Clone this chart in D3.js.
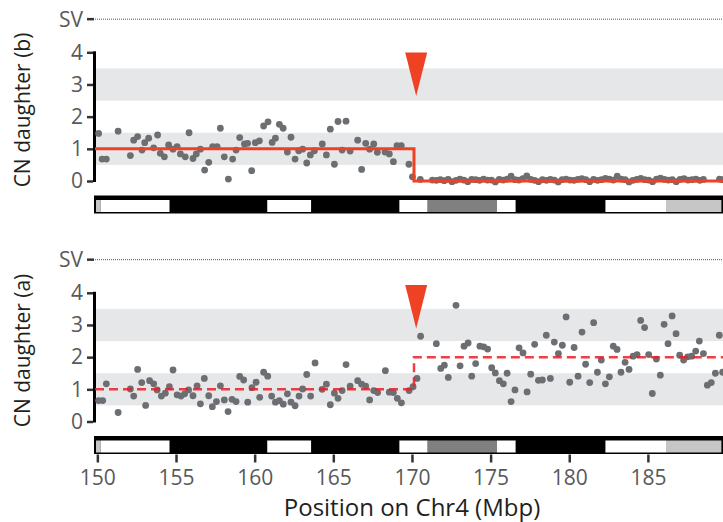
<!DOCTYPE html>
<html>
<head>
<meta charset="utf-8">
<script src="https://cdn.jsdelivr.net/npm/d3@7"></script>
<style>
  body { margin: 0; background: #fff; }
  text { font-family: "Open Sans", sans-serif; }
</style>
</head>
<body>
<svg id="chart" width="723" height="522"></svg>
<script>
// copy number per bin, [position (Mbp), CN]
var cnDaughterB = [
  [150.08, 1.48], [150.30, 0.68], [150.57, 0.68], [151.32, 1.55], [152.10, 0.79], [152.31, 1.27],
  [152.56, 1.38], [152.84, 0.96], [153.01, 1.19], [153.26, 1.33], [153.58, 1.03], [153.83, 1.43],
  [154.00, 0.86], [154.26, 0.75], [154.53, 1.12], [154.81, 0.99], [155.07, 1.07], [155.28, 0.84],
  [155.59, 0.75], [155.83, 1.50], [156.08, 0.70], [156.29, 0.84], [156.55, 0.99], [156.82, 0.34],
  [157.08, 0.58], [157.33, 1.07], [157.61, 1.07], [157.82, 1.64], [158.07, 0.75], [158.33, 0.06],
  [158.60, 0.68], [158.82, 0.96], [159.05, 1.35], [159.35, 1.15], [159.55, 1.17], [159.81, 0.32],
  [160.04, 1.19], [160.30, 1.25], [160.57, 1.71], [160.85, 1.84], [161.11, 1.20], [161.32, 1.33],
  [161.57, 1.76], [161.81, 1.64], [162.08, 0.90], [162.31, 1.36], [162.57, 0.68], [162.80, 0.94],
  [163.05, 0.99], [163.31, 0.56], [163.54, 0.81], [163.80, 0.94], [164.30, 1.15], [164.56, 0.81],
  [164.81, 1.61], [165.07, 0.52], [165.30, 1.85], [165.56, 0.96], [165.81, 1.86], [166.07, 0.93],
  [166.55, 1.27], [166.80, 0.36], [167.06, 1.17], [167.31, 0.99], [167.57, 1.15], [167.80, 0.89],
  [168.29, 0.90], [168.56, 0.84], [168.82, 0.60], [169.05, 1.10], [169.32, 1.10], [169.81, 0.52],
  [170.03, 0.13], [170.53, 0.05],
  [171.30, 0.03], [171.55, 0.02], [171.80, 0.04], [172.05, 0.01], [172.30, 0.05], [172.55, -0.02],
  [172.80, 0.02], [173.05, 0.06], [173.30, 0.03], [173.55, -0.02], [173.80, 0.05], [174.05, 0.04],
  [174.30, 0.02], [174.55, 0.06], [174.80, 0.03], [175.05, 0.03], [175.30, -0.03], [175.55, 0.05],
  [175.80, 0.03], [176.05, 0.06], [176.30, 0.15], [176.55, 0.04], [176.80, 0.03], [177.05, 0.07],
  [177.30, 0.16], [177.55, 0.05], [177.80, 0.02], [178.05, -0.02], [178.30, 0.04], [178.55, 0.02],
  [178.80, 0.05], [179.05, 0.03], [179.30, -0.03], [179.55, 0.04], [179.80, 0.06], [180.05, 0.03],
  [180.30, 0.02], [180.55, 0.05], [180.80, 0.07], [181.05, 0.04], [181.30, -0.02], [181.55, 0.05],
  [181.80, 0.02], [182.05, 0.04], [182.30, 0.08], [182.55, 0.06], [182.80, 0.03], [183.05, 0.15],
  [183.30, 0.06], [183.55, 0.04], [183.80, -0.03], [184.05, 0.02], [184.30, 0.05], [184.55, 0.08],
  [184.80, 0.04], [185.05, 0.03], [185.30, -0.02], [185.55, 0.06], [185.80, 0.09], [186.05, 0.05],
  [186.30, 0.03], [186.55, 0.04], [186.80, -0.02], [187.05, 0.05], [187.30, 0.07], [187.55, 0.03],
  [187.80, 0.04], [188.05, 0.06], [188.30, 0.02], [188.53, 0.05], [189.55, 0.06], [189.75, 0.04]
]

var cnDaughterA = [
  [150.08, 0.65], [150.34, 0.65], [150.57, 1.17], [151.32, 0.28], [152.10, 1.01], [152.31, 0.79],
  [152.56, 1.62], [152.82, 1.21], [153.07, 0.50], [153.32, 1.27], [153.58, 1.17], [153.80, 0.98],
  [154.07, 0.79], [154.32, 0.88], [154.58, 1.08], [154.81, 1.60], [155.07, 0.83], [155.32, 0.79],
  [155.55, 0.86], [155.80, 0.98], [156.08, 0.80], [156.34, 1.11], [156.55, 0.55], [156.80, 1.34],
  [157.08, 0.80], [157.31, 0.46], [157.57, 0.62], [157.82, 1.11], [158.07, 0.67], [158.31, 0.31],
  [158.56, 0.69], [158.82, 0.62], [159.05, 1.40], [159.30, 1.29], [159.56, 0.60], [159.83, 1.05],
  [160.09, 1.22], [160.32, 0.75], [160.57, 1.53], [160.83, 1.41], [161.08, 0.79], [161.32, 0.60],
  [161.57, 0.65], [161.82, 0.54], [162.08, 0.86], [162.31, 0.60], [162.57, 0.49], [162.82, 0.79],
  [163.05, 1.01], [163.31, 1.46], [163.56, 0.79], [163.84, 1.82], [164.29, 1.00], [164.56, 1.16],
  [164.81, 0.52], [165.07, 0.88], [165.30, 0.72], [165.56, 0.96], [165.81, 1.77], [166.07, 1.10],
  [166.55, 1.27], [166.80, 1.16], [167.06, 1.10], [167.31, 0.67], [167.57, 0.96], [167.82, 0.90],
  [168.31, 1.58], [168.56, 0.91], [168.82, 0.90], [169.07, 0.72], [169.33, 0.58], [169.82, 0.96],
  [170.07, 1.08], [170.32, 1.34], [170.55, 2.65], [171.55, 2.42], [171.83, 1.65], [172.06, 1.75],
  [172.31, 1.37], [172.80, 3.61], [173.06, 1.73], [173.31, 2.34], [173.57, 2.44], [173.80, 1.41],
  [174.05, 1.80], [174.32, 2.34], [174.56, 2.32], [174.81, 2.25], [175.07, 1.67], [175.30, 1.51],
  [175.56, 1.27], [175.81, 1.17], [176.05, 1.50], [176.30, 0.62], [176.55, 0.98], [176.81, 2.29],
  [177.06, 2.13], [177.32, 0.92], [177.55, 1.47], [177.80, 2.40], [178.04, 1.28], [178.29, 1.29],
  [178.54, 2.68], [178.80, 1.34], [179.05, 2.47], [179.31, 2.11], [179.56, 2.37], [179.80, 3.25],
  [180.03, 1.22], [180.31, 2.30], [180.56, 1.41], [180.81, 2.78], [181.04, 1.78], [181.30, 1.21],
  [181.55, 3.07], [181.79, 1.53], [182.04, 1.91], [182.30, 1.17], [182.55, 1.39], [182.80, 2.34],
  [183.04, 2.24], [183.29, 1.53], [183.55, 1.84], [183.80, 1.62], [184.06, 2.03], [184.31, 2.08],
  [184.54, 3.14], [184.79, 2.92], [185.05, 2.08], [185.28, 0.87], [185.54, 1.94], [185.79, 1.44],
  [186.03, 3.02], [186.28, 2.42], [186.54, 3.28], [186.79, 2.73], [187.02, 2.06], [187.27, 1.91],
  [187.53, 2.01], [187.78, 2.03], [188.04, 2.19], [188.27, 2.50], [188.53, 2.11], [188.78, 1.13],
  [189.03, 1.21], [189.29, 1.50], [189.54, 2.68], [189.75, 1.53]
]

// segmented copy number
var segStart = [149.85, 170.13]
var segEnd = [170.13, 189.8]
var segCnB = [1, 0]
var segCnA = [1, 2]

// breakpoint marker, position and tip level for each panel
var breakpointPos = 170.27
var arrowTipB = 2.64
var arrowTipA = 2.89

// hg38 cytobands on chr4 q-arm
var bandStart = [149.85, 150.2, 154.6, 160.8, 163.6, 169.2, 171.0, 175.4, 176.6, 182.3, 186.2]
var bandEnd = [150.2, 154.6, 160.8, 163.6, 169.2, 171.0, 175.4, 176.6, 182.3, 186.2, 189.8]
var bandStain = ['gpos25', 'gneg', 'gpos100', 'gneg', 'gpos100', 'gneg', 'gpos75', 'gneg', 'gpos100', 'gneg', 'gpos25']

var yTicks = [0, 1, 2, 3, 4]
var xTicks = [150, 155, 160, 165, 170, 175, 180, 185]
var shadedBands = [[0.5, 1.5], [2.5, 3.5]]

var stainColor = { gneg: '#ffffff', gpos25: '#c6c6c6', gpos75: '#808080', gpos100: '#000000' }

var svg = d3.select('#chart')

var x = d3.scaleLinear()
  .domain([149.85, 189.8])
  .range([95, 723.4])

var y = d3.scaleLinear()
  .domain([0, 4])
  .range([181, 52.3])

function drawPanel (offset, title, points, segCn, dashed, arrowTip) {
  var g = svg.append('g').attr('transform', 'translate(0,' + offset + ')')

  // grey bands behind data
  g.selectAll('.band')
    .data(shadedBands)
    .enter().append('rect')
    .attr('x', x.range()[0])
    .attr('width', x.range()[1] - x.range()[0])
    .attr('y', function (d) { return y(d[1]) })
    .attr('height', function (d) { return y(d[0]) - y(d[1]) })
    .attr('fill', '#e6e7e8')

  // SV row
  g.append('line')
    .attr('x1', 95).attr('x2', x.range()[1])
    .attr('y1', y(5.03)).attr('y2', y(5.03))
    .attr('stroke', '#555').attr('stroke-width', 1)
    .attr('stroke-dasharray', '1,1')
  g.append('line')
    .attr('x1', 87).attr('x2', 94)
    .attr('y1', y(5.03)).attr('y2', y(5.03))
    .attr('stroke', '#333').attr('stroke-width', 2.5)
  g.append('text')
    .attr('x', 83).attr('y', y(5.03))
    .attr('dy', '0.35em')
    .attr('text-anchor', 'end')
    .attr('font-size', 21)
    .attr('fill', '#58595b')
    .text('SV')

  // y axis
  var yAxis = g.append('g')
    .attr('transform', 'translate(93,0)')
    .call(d3.axisLeft(y).tickValues(yTicks).tickFormat(d3.format('d')).tickSize(6).tickPadding(4))
  yAxis.select('.domain').remove()
  yAxis.selectAll('line').attr('stroke', '#333').attr('stroke-width', 2.5)
  yAxis.selectAll('text').attr('font-size', 21).attr('fill', '#58595b').attr('font-family', '"Open Sans", sans-serif')
  g.append('line')
    .attr('x1', 94.5).attr('x2', 94.5)
    .attr('y1', y(4) - 1).attr('y2', y(0) + 1)
    .attr('stroke', '#000').attr('stroke-width', 3)

  g.append('text')
    .attr('transform', 'translate(30,' + 110 + ') rotate(-90)')
    .attr('text-anchor', 'middle')
    .attr('font-size', 21)
    .attr('fill', '#231f20')
    .text(title)

  // dots
  g.selectAll('.pt')
    .data(points)
    .enter().append('circle')
    .attr('cx', function (d) { return x(d[0]) })
    .attr('cy', function (d) { return y(d[1]) })
    .attr('r', 3.4)
    .attr('fill', '#6d6e71')

  // segment line
  var segPts = []
  segStart.forEach(function (s, i) {
    segPts.push([s, segCn[i]])
    segPts.push([segEnd[i], segCn[i]])
  })
  var line = d3.line()
    .x(function (d) { return x(d[0]) })
    .y(function (d) { return y(d[1]) })
  var seg = g.append('path')
    .datum(segPts)
    .attr('d', line)
    .attr('fill', 'none')
  if (dashed) {
    seg.attr('stroke', '#ed1c24').attr('stroke-width', 2.5)
      .attr('stroke-dasharray', '9,5').attr('stroke-opacity', 0.85)
  } else {
    seg.attr('stroke', '#ef4123').attr('stroke-width', 3)
  }

  // breakpoint arrow
  var ax = x(breakpointPos)
  var tip = y(arrowTip)
  var top = y(arrowTip + 1.35)
  g.append('path')
    .attr('d', 'M' + (ax - 11) + ',' + top + 'L' + (ax + 11) + ',' + top + 'L' + ax + ',' + tip + 'Z')
    .attr('fill', '#ef4123')

  // ideogram
  var ideo = g.append('g')
  ideo.append('rect')
    .attr('x', x.range()[0] - 1)
    .attr('y', 195.5)
    .attr('width', x.range()[1] - x.range()[0] + 1)
    .attr('height', 18)
    .attr('fill', '#000')
  ideo.selectAll('.cyto')
    .data(bandStart)
    .enter().append('rect')
    .attr('x', function (d) { return Math.max(x(d), x.range()[0] + 1) })
    .attr('width', function (d, i) { return Math.min(x(bandEnd[i]), x.range()[1] - 2) - Math.max(x(d), x.range()[0] + 1) })
    .attr('y', 200)
    .attr('height', 12)
    .attr('fill', function (d, i) { return stainColor[bandStain[i]] })

  return g
}

drawPanel(0, 'CN daughter (b)', cnDaughterB, segCnB, false, arrowTipB)
var bottom = drawPanel(240.5, 'CN daughter (a)', cnDaughterA, segCnA, true, arrowTipA)

// x axis under the lower ideogram
var xAxis = bottom.append('g')
  .attr('transform', 'translate(0,214)')
  .call(d3.axisBottom(x).tickValues(xTicks).tickSize(8).tickPadding(8))
xAxis.select('.domain').remove()
xAxis.selectAll('line').attr('stroke', '#333').attr('stroke-width', 2.5)
xAxis.selectAll('text').attr('font-size', 21).attr('fill', '#58595b').attr('font-family', '"Open Sans", sans-serif')

svg.append('text')
  .attr('x', 412)
  .attr('y', 516)
  .attr('text-anchor', 'middle')
  .attr('font-size', 24)
  .attr('fill', '#231f20')
  .text('Position on Chr4 (Mbp)')
</script>
</body>
</html>
